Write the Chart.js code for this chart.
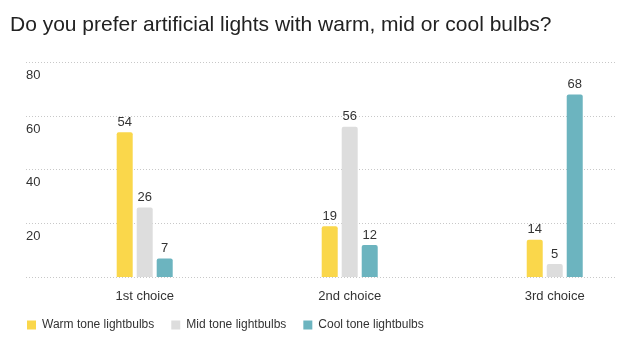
<!DOCTYPE html>
<html>
<head>
<meta charset="utf-8">
<script src="https://cdn.jsdelivr.net/npm/chart.js@4"></script>
<style>
  html, body { margin: 0; padding: 0; background: #fff; }
  #wrap { width: 619px; height: 349px; position: relative; }
</style>
</head>
<body>
<div id="wrap"><canvas id="c"></canvas></div>
<script>
const categories = ['1st choice', '2nd choice', '3rd choice'];
const seriesNames = ['Warm tone lightbulbs', 'Mid tone lightbulbs', 'Cool tone lightbulbs'];
const warmValues = [54, 19, 14];
const midValues = [26, 56, 5];
const coolValues = [7, 12, 68];
const yTicks = [0, 20, 40, 60, 80];
const titleText = 'Do you prefer artificial lights with warm, mid or cool bulbs?';

const colors = ['#fad74b', '#dddddd', '#6cb4bf'];
const FONT = 'Arial, "Liberation Sans", sans-serif';

function toPoints(vals) { return vals.map((v, i) => ({ x: i, y: v })); }

const valueLabels = {
  id: 'valueLabels',
  afterDatasetsDraw(chart) {
    const ctx = chart.ctx;
    ctx.save();
    ctx.font = '13px ' + FONT;
    ctx.fillStyle = '#333';
    ctx.textAlign = 'center';
    ctx.textBaseline = 'middle';
    chart.data.datasets.forEach((ds, di) => {
      const meta = chart.getDatasetMeta(di);
      meta.data.forEach((el, i) => {
        ctx.fillText(String(ds.data[i].y), el.x, el.y - 10);
      });
    });
    ctx.restore();
  }
};

// Legend sits a little closer to the axis labels than its padding implies
const LEGEND_SHIFT = 13;
const legendTweak = {
  id: 'legendTweak',
  beforeLayout(chart) {
    const lg = chart.legend;
    if (lg && !lg._tweaked) {
      const origFit = lg.fit.bind(lg);
      lg.fit = function () { origFit(); this.height -= LEGEND_SHIFT; };
      lg._tweaked = true;
    }
  },
  afterLayout(chart) {
    const lg = chart.legend;
    if (lg) { lg.top -= LEGEND_SHIFT; lg.height += LEGEND_SHIFT; }
  }
};

new Chart(document.getElementById('c'), {
  type: 'bar',
  data: {
    datasets: [
      { label: seriesNames[0], data: toPoints(warmValues), backgroundColor: colors[0] },
      { label: seriesNames[1], data: toPoints(midValues), backgroundColor: colors[1] },
      { label: seriesNames[2], data: toPoints(coolValues), backgroundColor: colors[2] }
    ]
  },
  options: {
    responsive: true,
    maintainAspectRatio: false,
    animation: false,
    layout: { padding: { left: 10, right: 4, top: 9, bottom: 8 } },
    datasets: {
      bar: {
        categoryPercentage: 60 / 205,
        barPercentage: 0.8,
        borderRadius: { topLeft: 2, topRight: 2, bottomLeft: 0, bottomRight: 0 },
        borderSkipped: 'bottom'
      }
    },
    scales: {
      x: {
        type: 'linear',
        offset: false,
        min: -0.579,
        max: 2.294,
        afterBuildTicks: (scale) => { scale.ticks = categories.map((c, i) => ({ value: i })); },
        grid: { display: false, drawTicks: false },
        border: { display: false },
        ticks: {
          padding: 11,
          color: '#333',
          font: { family: FONT, size: 13 },
          callback: (v) => categories[v] ?? ''
        }
      },
      y: {
        min: 0,
        max: 80,
        afterBuildTicks: (scale) => { scale.ticks = yTicks.map(v => ({ value: v })); },
        afterFit: (scale) => { scale.width = 16; },
        grid: {
          color: '#c8c8c8',
          lineWidth: 1,
          drawTicks: false
        },
        border: { display: false, dash: [1, 2] },
        ticks: {
          mirror: true,
          padding: 0,
          labelOffset: 13,
          color: '#333',
          font: { family: FONT, size: 13 },
          callback: (v) => v === 0 ? '' : String(v)
        }
      }
    },
    plugins: {
      title: {
        display: true,
        text: titleText,
        align: 'start',
        color: '#222',
        font: { family: FONT, size: 21, weight: 'normal' },
        padding: { top: 4, bottom: 24 }
      },
      legend: {
        position: 'bottom',
        align: 'start',
        labels: {
          boxWidth: 9,
          boxHeight: 9,
          padding: 17,
          color: '#333',
          font: { family: FONT, size: 12 }
        }
      },
      tooltip: { enabled: false }
    }
  },
  plugins: [valueLabels, legendTweak]
});
</script>
</body>
</html>
